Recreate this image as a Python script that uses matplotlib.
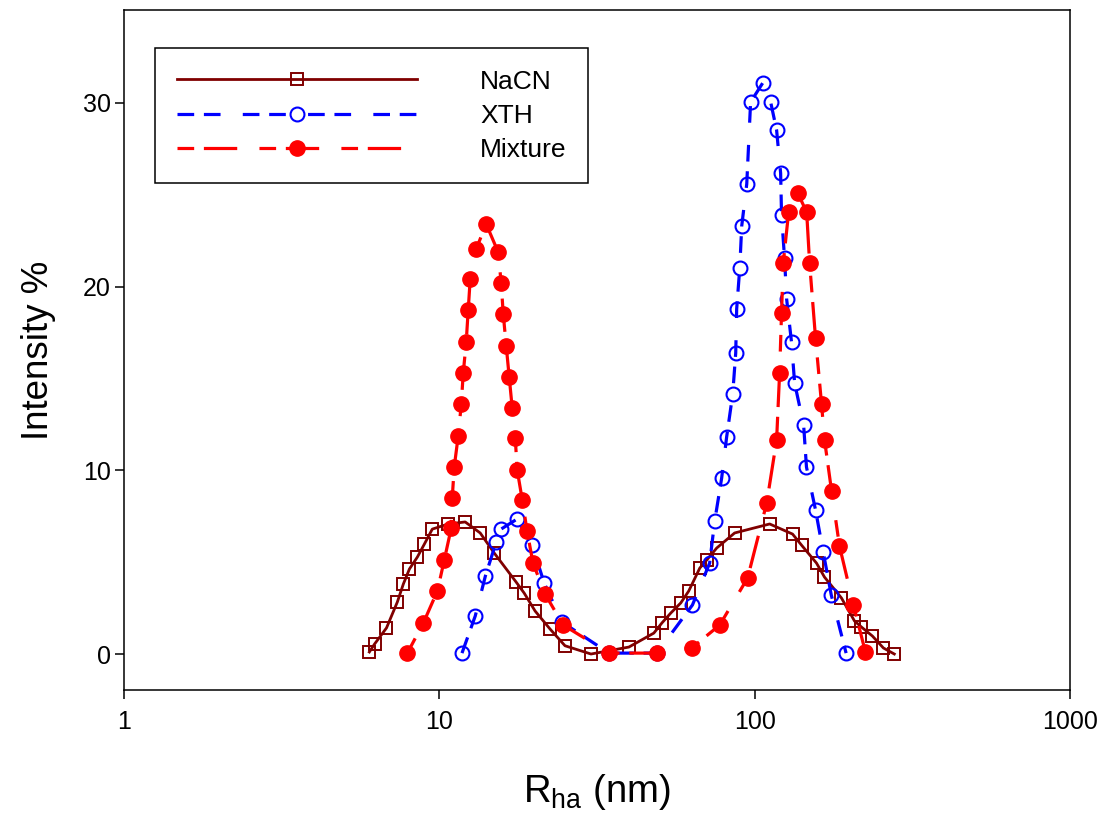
import matplotlib
matplotlib.use("Agg")
import matplotlib.pyplot as plt
from matplotlib.ticker import FixedLocator, FixedFormatter, NullLocator

plt.rcParams['font.family'] = ['Liberation Sans', 'DejaVu Sans']
plt.rcParams['mathtext.default'] = 'regular'
plt.rcParams['lines.scale_dashes'] = False

# NaCN (open squares, solid line)
nacn_x = [6.00, 6.23, 6.80, 7.36, 7.69, 8.04, 8.52, 8.97, 9.50, 10.68, 12.08, 13.48,
          14.93, 17.52, 18.58, 20.13, 22.45, 25.04, 30.27, 39.93, 47.9, 50.8, 54.2,
          58.3, 61.8, 67.0, 70.5, 75.8, 86.4, 111.6, 131.9, 140.8, 157.1, 166.5,
          188.5, 207.3, 218.1, 236.3, 256.0, 277.3]
nacn_y = [0.11, 0.54, 1.42, 2.83, 3.81, 4.63, 5.28, 5.99, 6.80, 7.08, 7.19, 6.59,
          5.50, 3.92, 3.32, 2.34, 1.36, 0.45, 0.0, 0.38, 1.14, 1.69, 2.23,
          2.78, 3.43, 4.68, 5.12, 5.77, 6.59, 7.08, 6.53, 5.93, 4.95, 4.19,
          3.05, 1.80, 1.47, 0.98, 0.33, 0.0]

# XTH (open circles, dashed line)
xth_x = [11.8, 13.0, 14.0, 15.15, 15.7, 17.65, 19.7, 21.5, 24.5, 34.5, 49.0, 63.5,
         72.0, 74.7, 78.6, 81.5, 85.2, 87.1, 87.7, 89.7, 91.0, 94.4, 97.1, 106.0,
         112.4, 117.4, 120.9, 121.7, 124.4, 126.3, 130.9, 133.9, 143.0, 146.0,
         156.0, 165.0, 175.0, 195.0]
xth_y = [0.05, 2.07, 4.25, 6.10, 6.80, 7.35, 5.93, 3.87, 1.74, 0.05, 0.05, 2.67,
         4.95, 7.24, 9.58, 11.81, 14.15, 16.39, 18.78, 21.01, 23.30, 25.59, 30.05, 31.08,
         30.05, 28.52, 26.18, 23.90, 21.56, 19.33, 16.98, 14.75, 12.47, 10.18,
         7.84, 5.55, 3.21, 0.05]

# Mixture (filled circles, long/short dashed line)
mix_x = [7.92, 8.90, 9.86, 10.37, 10.91, 10.99, 11.15, 11.48, 11.74, 11.91, 12.17,
         12.35, 12.53, 13.09, 14.08, 15.37, 15.71, 15.95, 16.30, 16.66, 17.03, 17.41,
         17.66, 18.33, 18.98, 19.82, 21.64, 24.7, 34.5, 49.0, 63.2, 77.5, 95.0,
         109.2, 117.4, 120.0, 121.7, 123.2, 128.2, 136.9, 146.2, 149.4, 156.0,
         163.0, 166.6, 175.4, 185.8, 205.8, 224.5]
mix_y = [0.05, 1.69, 3.43, 5.12, 6.86, 8.49, 10.18, 11.87, 13.61, 15.30, 16.98,
         18.73, 20.41, 22.05, 23.41, 21.88, 20.20, 18.51, 16.77, 15.08, 13.39, 11.76,
         10.02, 8.38, 6.70, 4.95, 3.27, 1.58, 0.05, 0.05, 0.33, 1.58, 4.14,
         8.22, 11.65, 15.30, 18.56, 21.28, 24.06, 25.10, 24.06, 21.28, 17.20,
         13.61, 11.65, 8.87, 5.88, 2.67, 0.11]

x_ticks = [1, 10, 100, 1000]
x_tick_labels = ['1', '10', '100', '1000']
y_ticks = [0, 10, 20, 30]

fig = plt.figure(figsize=(11.05, 8.14), dpi=100)
ax = fig.add_axes([0.1122, 0.1523, 0.8561, 0.8354])

ax.plot(nacn_x, nacn_y, color='#800000', linewidth=2.0, marker='s',
        markersize=9, markerfacecolor='none', markeredgecolor='#800000',
        markeredgewidth=1.4, label='NaCN')
ax.plot(xth_x, xth_y, color='#0000FF', linewidth=2.3, dashes=(12, 7, 12, 16),
        marker='o', markersize=10, markerfacecolor='none', markeredgecolor='#0000FF',
        markeredgewidth=1.5, label='XTH')
ax.plot(mix_x, mix_y, color='#FF0000', linewidth=2.3, dashes=(12, 7, 24, 16),
        marker='o', markersize=11, markerfacecolor='#FF0000', markeredgecolor='#FF0000',
        label='Mixture')

ax.set_xscale('log')
ax.set_xlim(1, 1000)
ax.set_ylim(-1.96, 35.06)
ax.xaxis.set_major_locator(FixedLocator(x_ticks))
ax.xaxis.set_major_formatter(FixedFormatter(x_tick_labels))
ax.xaxis.set_minor_locator(NullLocator())
ax.set_yticks(y_ticks)

ax.tick_params(axis='both', direction='out', length=6.5, width=1.1, labelsize=18)
ax.tick_params(axis='x', pad=8)
ax.tick_params(axis='y', pad=3)
for sp in ax.spines.values():
    sp.set_linewidth(1.1)

ax.set_xlabel(r'R$_{ha}$ (nm)', fontsize=27.5, labelpad=27)
ax.set_ylabel('Intensity %', fontsize=26.5, labelpad=19)

leg = ax.legend(loc='upper left', bbox_to_anchor=(0.0328, 0.944), borderaxespad=0,
                fontsize=19, numpoints=1, handlelength=9.1, handletextpad=2.4,
                borderpad=0.82, labelspacing=0.38, fancybox=False, framealpha=1,
                edgecolor='black')
leg.get_frame().set_linewidth(1.1)

fig.savefig('out.png', dpi=100)
